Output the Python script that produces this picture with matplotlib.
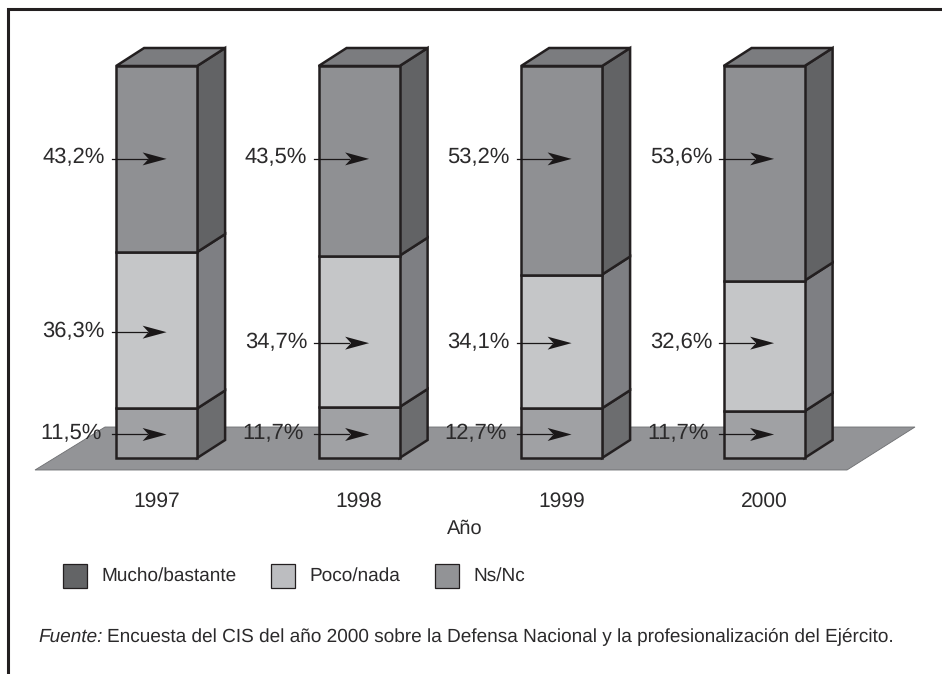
import matplotlib
matplotlib.use('Agg')
import matplotlib.pyplot as plt
from matplotlib.patches import Polygon, Rectangle

plt.rcParams['font.family'] = ['Liberation Sans', 'DejaVu Sans']
plt.rcParams['text.hinting'] = 'no_hinting'
plt.rcParams['text.hinting_factor'] = 1

years = ['1997', '1998', '1999', '2000']
ns_nc = [11.5, 11.7, 12.7, 11.7]
poco = [36.3, 34.7, 34.1, 32.6]
mucho = [43.2, 43.5, 53.2, 53.6]
labels = ['Mucho/bastante', 'Poco/nada', 'Ns/Nc']
source = u'Encuesta del CIS del año 2000 sobre la Defensa Nacional y la profesionalización del Ejército.'

# height of the arrows, in % of the stack
arrow_top = [76.3, 76.3, 76.3, 76.3]
arrow_mid = [32.1, 29.3, 29.3, 29.3]
arrow_low = [6.0, 6.0, 6.0, 6.0]

W, H = 942, 674
X0, XSTEP = 156.6, 202.5   # pixel of first bar centre, pixels per category
Y0, YSTEP = 458.0, 3.92    # pixel of 0 %, pixels per %

def px(x):
    return (x - X0) / XSTEP

def py(y):
    return (Y0 - y) / YSTEP

BW = 81 / XSTEP / 2
DX = 28 / XSTEP
DY = 18 / YSTEP
EDGE = '#231f20'
TXT = '#2b2a2b'

fig = plt.figure(figsize=(W / 100, H / 100), dpi=100, facecolor='white')
ax = fig.add_axes([0, 0, 1, 1])
ax.set_xlim(px(0), px(W))
ax.set_ylim(py(H), py(0))
ax.axis('off')

# frame
ax.plot([px(8), px(8), px(W)], [py(H), py(9), py(9)], color=EDGE, lw=2.2, zorder=1,
        solid_joinstyle='miter')

# floor
ax.add_patch(Polygon([(px(35), py(470)), (px(847), py(470)), (px(915), py(427)), (px(105), py(427))],
                     closed=True, fc='#939497', ec='#6d6e71', lw=0.6, zorder=2))

front = ['#a0a1a4', '#c5c6c8', '#8f9093']
side = ['#6c6d6f', '#7e7f83', '#626365']
swatch = ['#636466', '#bcbdc0', '#929396']

for i in range(len(years)):
    total = float(ns_nc[i] + poco[i] + mucho[i])
    bottom = 0.0
    for j, v in enumerate([ns_nc[i], poco[i], mucho[i]]):
        h = v / total * 100
        l, r = i - BW, i + BW
        ax.add_patch(Polygon([(r, bottom), (r + DX, bottom + DY), (r + DX, bottom + h + DY), (r, bottom + h)],
                             closed=True, fc=side[j], ec=EDGE, lw=1.8, joinstyle='miter', zorder=3))
        ax.add_patch(Rectangle((l, bottom), 2 * BW, h, fc=front[j], ec=EDGE, lw=1.8, joinstyle='miter', zorder=4))
        bottom += h
    ax.add_patch(Polygon([(l, 100), (r, 100), (r + DX, 100 + DY), (l + DX, 100 + DY)],
                         closed=True, fc='#7b7c7f', ec=EDGE, lw=1.8, joinstyle='miter', zorder=3))
    ax.text(i, py(501.5), years[i], ha='center', va='center', fontsize=14.8, color=TXT)

    for vals, ys in ((ns_nc, arrow_low), (poco, arrow_mid), (mucho, arrow_top)):
        # shaft and notched head
        ax.plot([i - 45 / XSTEP, i - 10 / XSTEP], [ys[i], ys[i]], color='#1a1718', lw=0.9, zorder=6)
        ax.add_patch(Polygon([(i + 10 / XSTEP, ys[i]), (i - 14 / XSTEP, ys[i] + 6.5 / YSTEP),
                              (i - 8 / XSTEP, ys[i]), (i - 14 / XSTEP, ys[i] - 6.5 / YSTEP)],
                             closed=True, fc='#1a1718', ec='none', zorder=6))
        xoff = 55 if ys is arrow_low else 52
        ax.text(i - xoff / XSTEP, ys[i] + 1 / YSTEP, ('%.1f' % vals[i]).replace('.', ',') + '%',
                ha='right', va='center', fontsize=16, color=TXT, zorder=6)

ax.text(px(465), py(529), u'Año', ha='center', va='center', fontsize=14.5, color=TXT)

# legend
for x, t, c in zip([63, 271, 435], labels, swatch):
    ax.add_patch(Rectangle((px(x), py(588)), 24 / XSTEP, 24 / YSTEP, fc=c, ec=EDGE, lw=0.9, zorder=3))
    ax.text(px(x + 38), py(576), t, ha='left', va='center', fontsize=14, color=TXT)

# source note
ax.text(px(38), py(637), 'Fuente:', ha='left', va='center', fontsize=13.6, style='italic', color=TXT)
ax.text(px(107), py(637), source, ha='left', va='center', fontsize=13.6, color=TXT)

fig.savefig('out.png', dpi=100, facecolor='white')
